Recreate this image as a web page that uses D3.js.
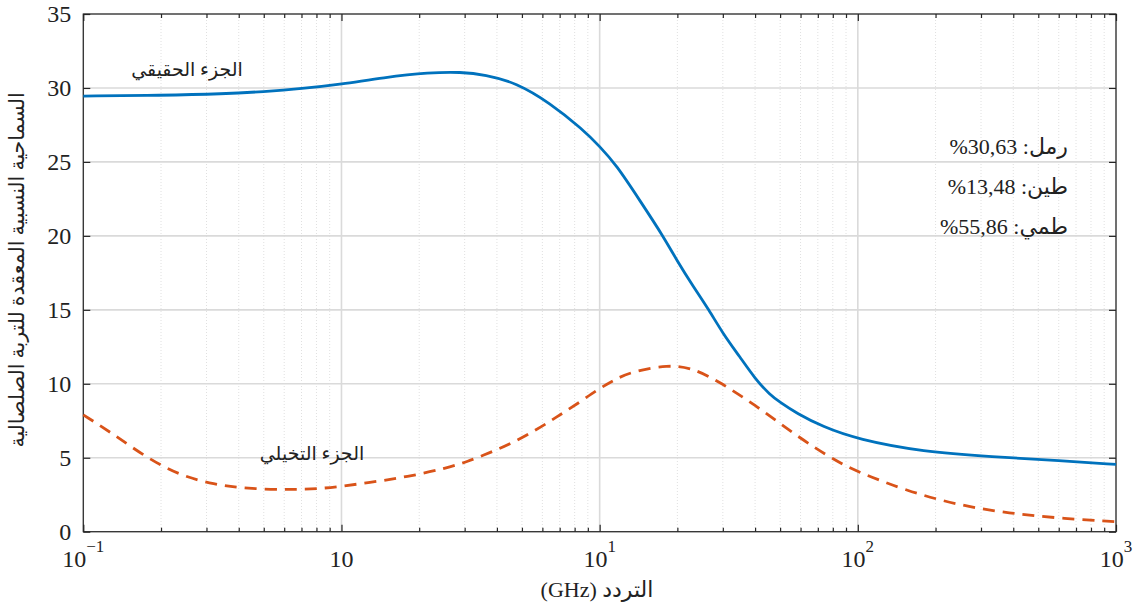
<!DOCTYPE html>
<html><head><meta charset="utf-8">
<script src="https://cdn.jsdelivr.net/npm/d3@7"></script>
<style>
body{margin:0;background:#fff;}
text{font-family:"Liberation Serif","DejaVu Serif","DejaVu Sans",serif;fill:#222;}
</style></head>
<body><svg id="c" width="1140" height="614"></svg>
<script>
// ---- data ----
const realFreq   = [0.1, 0.2, 0.35, 0.5, 0.7, 1, 1.45, 2.2, 2.9, 3.6, 4.75, 6.4, 8.6, 10, 11.6, 14.3, 17.6, 20, 23, 26.5, 30, 34.9, 40, 45.7, 50, 58, 73, 100, 179, 331, 612, 1000];
const realValues = [29.45, 29.5, 29.6, 29.75, 29.95, 30.25, 30.7, 31.05, 31.08, 30.9, 30.35, 29.0, 27.2, 26.05, 24.8, 22.4, 20.0, 18.28, 16.6, 15.0, 13.4, 11.83, 10.34, 9.25, 8.75, 8.0, 7.1, 6.24, 5.4, 5.07, 4.8, 4.55];
const imagFreq   = [0.1, 0.13, 0.176, 0.237, 0.32, 0.43, 0.63, 0.82, 1, 1.41, 1.89, 2.55, 3.07, 3.78, 4.59, 5.65, 6.76, 8.2, 10, 11.5, 13.2, 18.5, 22.9, 28.4, 41, 57.5, 83, 100, 154, 244, 386, 612, 1000];
const imagValues = [7.9, 6.63, 5.0, 3.8, 3.2, 2.9, 2.84, 2.9, 3.07, 3.42, 3.79, 4.3, 4.73, 5.36, 6.0, 6.86, 7.71, 8.65, 9.7, 10.3, 10.8, 11.3, 11.05, 10.25, 8.45, 6.5, 4.73, 4.05, 2.77, 1.8, 1.24, 0.9, 0.68];
const xTickValues = [0.1, 1, 10, 100, 1000];
const xTickBase   = ["10", "10", "10", "10", "10"];
const xTickExp    = ["\u22121", "", "1", "2", "3"];
const yTickValues = [0, 5, 10, 15, 20, 25, 30, 35];
const xLabel = "التردد (GHz)";
const yLabel = "السماحية النسبية المعقدة للتربة الصلصالية";
const realLabel = "الجزء الحقيقي";
const imagLabel = "الجزء التخيلي";
const soilLines = ["%30,63 :رمل", "%13,48 :طين", "%55,86 :طمي"];

// ---- layout ----
const L = 83.3, R = 1116, T = 14, B = 531.7;
const svg = d3.select("#c");
const x = d3.scaleLog().domain([0.1, 1000]).range([L, R]);
const y = d3.scaleLinear().domain([0, 35]).range([B, T]);

const minorX = [];
for (let e = -1; e < 3; e++) for (let m = 2; m <= 9; m++) minorX.push(m * Math.pow(10, e));

// minor grid (dotted)
svg.append("g").selectAll("line").data(minorX).join("line")
  .attr("x1", d => x(d)).attr("x2", d => x(d)).attr("y1", T).attr("y2", B)
  .attr("stroke", "#e0e0e0").attr("stroke-width", 1).attr("stroke-dasharray", "1,2");
// major grid
svg.append("g").selectAll("line").data(xTickValues).join("line")
  .attr("x1", d => x(d)).attr("x2", d => x(d)).attr("y1", T).attr("y2", B)
  .attr("stroke", "#dadada").attr("stroke-width", 1.6);
svg.append("g").selectAll("line").data(yTickValues).join("line")
  .attr("x1", L).attr("x2", R).attr("y1", d => y(d)).attr("y2", d => y(d))
  .attr("stroke", "#dadada").attr("stroke-width", 1.6);

// axes with inward ticks
function styleAxis(g){ g.select(".domain").remove(); g.selectAll("line").attr("stroke","#262626").attr("stroke-width",1.2); g.selectAll("text").remove(); }
svg.append("g").attr("transform", `translate(0,${B})`).call(d3.axisBottom(x).tickValues(xTickValues).tickSize(-7)).call(styleAxis);
svg.append("g").attr("transform", `translate(0,${B})`).call(d3.axisBottom(x).tickValues(minorX).tickSize(-4)).call(styleAxis);
svg.append("g").attr("transform", `translate(0,${T})`).call(d3.axisTop(x).tickValues(xTickValues).tickSize(-7)).call(styleAxis);
svg.append("g").attr("transform", `translate(0,${T})`).call(d3.axisTop(x).tickValues(minorX).tickSize(-4)).call(styleAxis);
svg.append("g").attr("transform", `translate(${L},0)`).call(d3.axisLeft(y).tickValues(yTickValues).tickSize(-7)).call(styleAxis);
svg.append("g").attr("transform", `translate(${R},0)`).call(d3.axisRight(y).tickValues(yTickValues).tickSize(-7)).call(styleAxis);

// box
svg.append("rect").attr("x", L).attr("y", T).attr("width", R - L).attr("height", B - T)
  .attr("fill", "none").attr("stroke", "#262626").attr("stroke-width", 1.2);

// y tick labels
svg.append("g").selectAll("text").data(yTickValues).join("text")
  .attr("x", L - 12).attr("y", d => y(d)).attr("dy", "0.35em")
  .attr("text-anchor", "end").attr("font-size", 24).text(d => d);

// x tick labels with superscripts
const xt = svg.append("g").selectAll("text").data(xTickValues).join("text")
  .attr("x", d => x(d)).attr("y", 567).attr("text-anchor", "middle").attr("font-size", 24);
xt.append("tspan").text((d, i) => xTickBase[i]);
xt.append("tspan").attr("dy", -15).attr("font-size", 17).text((d, i) => xTickExp[i]);

// lines
const line = d3.line().x(d => x(d[0])).y(d => y(d[1])).curve(d3.curveBasis);
svg.append("path").datum(realFreq.map((f, i) => [f, realValues[i]]))
  .attr("d", line).attr("fill", "none").attr("stroke", "#0072BD").attr("stroke-width", 2.8);
svg.append("path").datum(imagFreq.map((f, i) => [f, imagValues[i]]))
  .attr("d", line).attr("fill", "none").attr("stroke", "#D95319").attr("stroke-width", 2.8)
  .attr("stroke-dasharray", "12,8");

// annotations
svg.append("text").attr("x", 187).attr("y", 76).attr("text-anchor", "middle")
  .attr("font-size", 19).text(realLabel);
svg.append("text").attr("x", 312).attr("y", 460).attr("text-anchor", "middle")
  .attr("font-size", 19).text(imagLabel);
svg.append("g").selectAll("text").data(soilLines).join("text")
  .attr("direction", "ltr").attr("x", 1068).attr("y", (d, i) => 154 + i * 40)
  .attr("text-anchor", "end").attr("font-size", 22).text(d => d);

// axis labels
svg.append("text").attr("direction", "rtl").attr("x", 597).attr("y", 597).attr("text-anchor", "middle")
  .attr("font-size", 22).text(xLabel);
svg.append("text").attr("transform", "translate(24,270) rotate(-90)")
  .attr("text-anchor", "middle").attr("font-size", 20.5).text(yLabel);
</script></body></html>
